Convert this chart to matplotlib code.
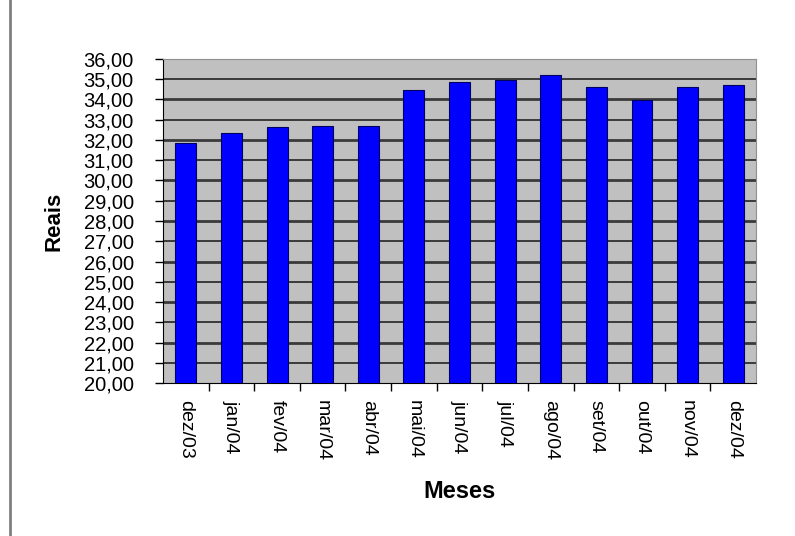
import matplotlib.pyplot as plt
from matplotlib.lines import Line2D
from matplotlib.ticker import FuncFormatter, MultipleLocator

plt.rcParams["font.family"] = ["Liberation Sans", "DejaVu Sans"]

# === Monthly values (R$) ===
meses = ["dez/03", "jan/04", "fev/04", "mar/04", "abr/04", "mai/04", "jun/04",
         "jul/04", "ago/04", "set/04", "out/04", "nov/04", "dez/04"]
valores = [31.85, 32.35, 32.65, 32.70, 32.70, 34.45, 34.85,
           34.95, 35.20, 34.60, 33.95, 34.60, 34.70]

fig = plt.figure(figsize=(7.95, 5.36), dpi=100)
ax = fig.add_axes([0.205, 0.2854, 0.746, 0.6046])
ax.set_facecolor("#c0c0c0")

x = range(len(meses))
ax.bar(x, valores, width=0.46, color="#0000ff", edgecolor="#000060",
       linewidth=0.8, zorder=3)

# === Axes ===
ax.set_ylim(20, 36)
ax.set_xlim(-0.5, len(meses) - 0.5)
ax.yaxis.set_major_locator(MultipleLocator(1))
ax.yaxis.set_major_formatter(FuncFormatter(lambda v, p: f"{v:.2f}".replace(".", ",")))
for v in range(21, 36):
    ax.axhline(v, color="#3a3a3a", linewidth=2.0 if v % 2 == 0 else 1.4, zorder=1)

ax.set_xticks(list(x))
ax.set_xticklabels(meses, rotation=270, fontsize=14)
ax.tick_params(axis="x", length=0, pad=12)
ax.set_xticks([i + 0.5 for i in range(len(meses) - 1)], minor=True)
ax.tick_params(axis="x", which="minor", length=6, width=1, color="black")
ax.tick_params(axis="y", length=6, width=1, labelsize=14.5, pad=15)

for side in ["top", "right"]:
    ax.spines[side].set_color("#909090")
ax.spines["left"].set_color("black")
ax.spines["bottom"].set_color("black")

ax.set_ylabel("Reais", fontsize=16, fontweight="bold", labelpad=14)
ax.set_xlabel("Meses", fontsize=17, fontweight="bold", labelpad=14)

# frame line on the left edge
fig.add_artist(Line2D([0.013, 0.013], [0.0, 1.0], color="#808080", linewidth=2))

plt.savefig("out.png")
